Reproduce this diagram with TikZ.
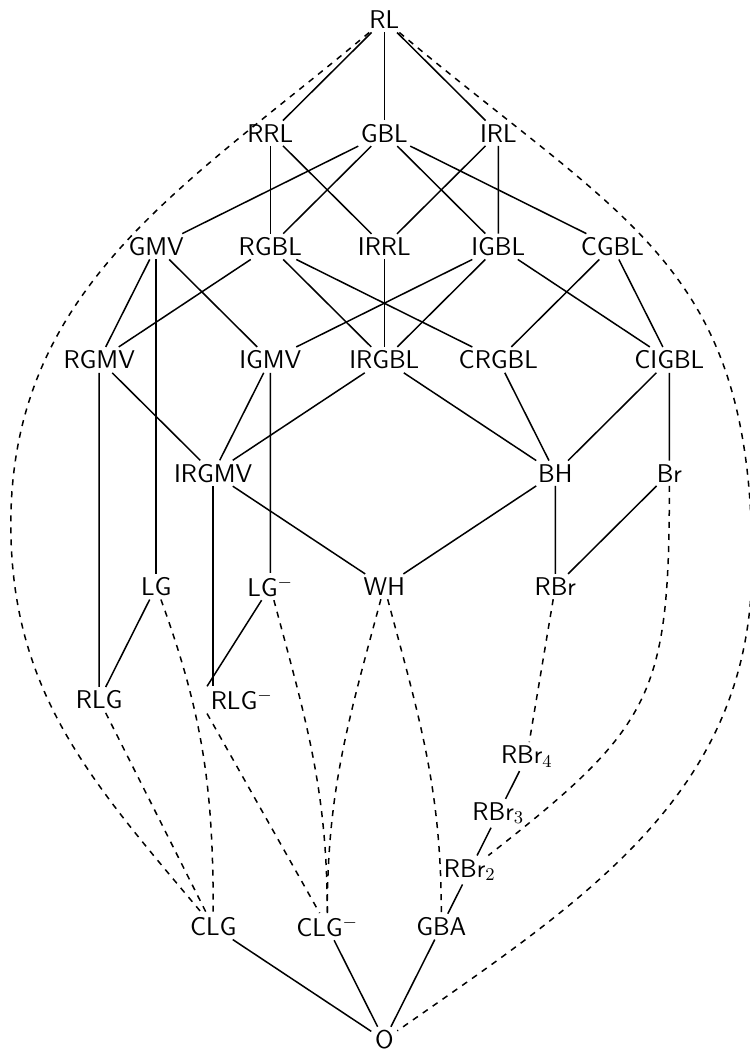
\documentclass[tikz,border=0pt]{standalone}
\usepackage{amsmath}
\usepackage{amssymb}
\usepackage{tikz}

\tikzset{vty/.style={font=\sffamily\fontsize{12.8}{15}\selectfont, inner sep=1.5pt},
	gap/.style={dashed}}

\begin{document}
\begin{tikzpicture}[x=1cm,y=0.994cm,line width=0.75pt,every node/.style={vty}]
	\useasboundingbox (-6.74,0.35) rectangle (6.40,-18.23);
	% varieties, row by row
	\node (RL) at (0,0) {RL};
	\node (RRL) at (-2,-2) {RRL};
	\node (GBL) at (0,-2) {GBL};
	\node (IRL) at (2,-2) {IRL};
	\node (GMV) at (-4,-4) {GMV};
	\node (RGBL) at (-2,-4) {RGBL};
	\node (IRRL) at (0,-4) {IRRL};
	\node (IGBL) at (2,-4) {IGBL};
	\node (CGBL) at (4,-4) {CGBL};
	\node (RGMV) at (-5,-6) {RGMV};
	\node (IGMV) at (-2,-6) {IGMV};
	\node (IRGBL) at (0,-6) {IRGBL};
	\node (CRGBL) at (2,-6) {CRGBL};
	\node (CIGBL) at (5,-6) {CIGBL};
	\node (IRGMV) at (-3,-8) {IRGMV};
	\node (BH) at (3,-8) {BH};
	\node (Br) at (5,-8) {Br};
	\node (LG) at (-4,-10) {LG};
	\node (LGm) at (-2,-10) {LG$^-$};
	\node (WH) at (0,-10) {WH};
	\node (RBr) at (3,-10) {RBr};
	\node (RLG) at (-5,-12) {RLG};
	\node (RLGm) at (-2.5,-12) {RLG$^-$};
	\node (RBr4) at (2.5,-13) {RBr$_4$};
	\node (RBr3) at (2,-14) {RBr$_3$};
	\node (RBr2) at (1.5,-15) {RBr$_2$};
	\node (CLG) at (-3,-16) {CLG};
	\node (CLGm) at (-1,-16) {CLG$^-$};
	\node (GBA) at (1,-16) {GBA};
	\node (O) at (0,-18) {O};
	\coordinate (lbend) at (-6.55,-8.9);
	\coordinate (rbend) at (6.45,-9.6);

	% covers
	\draw (RRL) -- (RL) -- (IRL);
	\draw (RL) -- (GBL);
	\draw (RRL) -- (RGBL);
	\draw (RRL) -- (IRRL) -- (IRL) -- (IGBL);
	\draw (GMV) -- (GBL) -- (RGBL);
	\draw (IGBL) -- (GBL) -- (CGBL);
	\draw (RGMV) -- (GMV) -- (IGMV);
	\draw (GMV) -- (LG);
	\draw (RGMV) -- (RGBL) -- (IRGBL);
	\draw (RGBL) -- (CRGBL);
	\draw (IRRL) -- (IRGBL);
	\draw (IGMV) -- (IGBL) -- (IRGBL);
	\draw (IGBL) -- (CIGBL);
	\draw (CRGBL) -- (CGBL) -- (CIGBL);
	\draw (RLG) -- (RGMV) -- (IRGMV);
	\draw (IRGMV) -- (IGMV) -- (LGm);
	\draw (IRGMV) -- (IRGBL) -- (BH);
	\draw (CRGBL) -- (BH) -- (CIGBL) -- (Br);
	\draw (RLG) -- (LG);
	\draw (LGm) -- (RLGm.north west);
	\draw (IRGMV) -- (IRGMV |- RLGm.north);
	\draw (IRGMV) -- (WH) -- (BH) -- (RBr) -- (Br);
	\draw (RBr4) -- (RBr3) -- (RBr2) -- (GBA);
	\draw (CLG) -- (O) -- (CLGm);
	\draw (GBA) -- (O);

	% non-covers
	\draw[gap] (RL) to[out=220,in=90] (lbend) to[out=-90,in=130] (CLG);
	\draw[gap] (RL) to[out=-40,in=90,looseness=1.2] (rbend) to[out=-90,in=35] (O);
	\draw[gap] (LG) to[out=-70,in=90] (CLG);
	\draw[gap] (LGm) to[out=-75,in=90] (CLGm);
	\draw[gap] (WH) to[out=-105,in=90] (CLGm);
	\draw[gap] (WH) to[out=-75,in=90] (GBA);
	\draw[gap] (RLG) -- (CLG);
	\draw[gap] (RLGm.south west) -- (CLGm);
	\draw[gap] (RBr) -- (RBr4);
	\draw[gap] (Br) to[out=-90,in=38,looseness=1.3] (RBr2);
\end{tikzpicture}
\end{document}
